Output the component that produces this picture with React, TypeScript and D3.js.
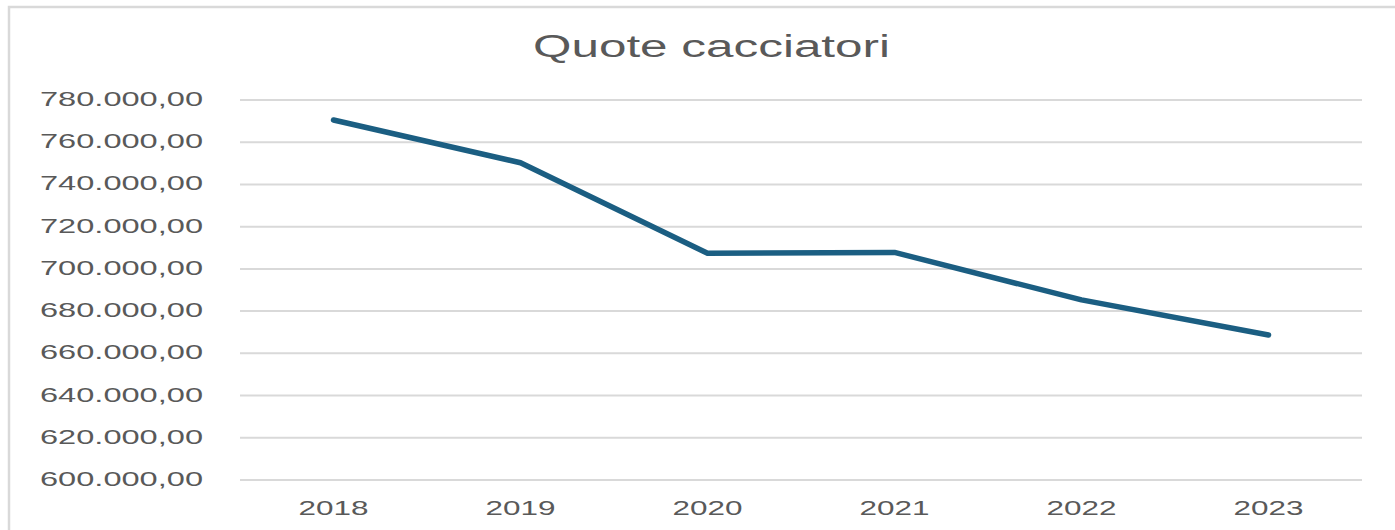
import React, { useEffect, useRef } from 'react';
import * as d3 from 'd3';

const years = ['2018', '2019', '2020', '2021', '2022', '2023'];
const quote = [770500, 750300, 707400, 707800, 685300, 668700];
const yTicks = [600000, 620000, 640000, 660000, 680000, 700000, 720000, 740000, 760000, 780000];
const title = 'Quote cacciatori';

const W = 1395;
const H = 530;

const fmt = (v: number) =>
  v.toLocaleString('it-IT', { minimumFractionDigits: 2, maximumFractionDigits: 2 });

const App = () => {
  const ref = useRef<SVGSVGElement>(null);

  useEffect(() => {
    document.body.style.margin = '0';
    const svg = d3.select(ref.current);
    svg.selectAll('*').remove();

    const margin = { top: 100, right: 33, bottom: 50, left: 240 };

    const x = d3
      .scaleBand()
      .domain(years)
      .range([margin.left, W - margin.right]);

    const y = d3
      .scaleLinear()
      .domain([600000, 780000])
      .range([H - margin.bottom, margin.top]);

    // chart border
    svg
      .append('rect')
      .attr('x', 9)
      .attr('y', 7)
      .attr('width', W + 20)
      .attr('height', H + 20)
      .attr('fill', '#fff')
      .attr('stroke', '#d9d9d9')
      .attr('stroke-width', 2.5);

    // title
    svg
      .append('text')
      .attr('x', 533)
      .attr('y', 57)
      .attr('textLength', 357)
      .attr('lengthAdjust', 'spacingAndGlyphs')
      .attr('font-family', 'Liberation Sans, Arial, sans-serif')
      .attr('font-size', 31)
      .attr('fill', '#595959')
      .text(title);

    // gridlines
    svg
      .append('g')
      .selectAll('line')
      .data(yTicks)
      .join('line')
      .attr('x1', margin.left)
      .attr('x2', W - margin.right)
      .attr('y1', (d) => y(d))
      .attr('y2', (d) => y(d))
      .attr('stroke', '#d9d9d9')
      .attr('stroke-width', 2);

    // y labels
    svg
      .append('g')
      .selectAll('text')
      .data(yTicks)
      .join('text')
      .attr('x', 203)
      .attr('y', (d) => y(d) + 6)
      .attr('text-anchor', 'end')
      .attr('textLength', 163)
      .attr('lengthAdjust', 'spacingAndGlyphs')
      .attr('font-family', 'Liberation Sans, Arial, sans-serif')
      .attr('font-size', 21)
      .attr('fill', '#595959')
      .text((d) => fmt(d));

    // x labels
    svg
      .append('g')
      .selectAll('text')
      .data(years)
      .join('text')
      .attr('x', (d) => x(d)! + x.bandwidth() / 2)
      .attr('y', 515)
      .attr('text-anchor', 'middle')
      .attr('textLength', 70)
      .attr('lengthAdjust', 'spacingAndGlyphs')
      .attr('font-family', 'Liberation Sans, Arial, sans-serif')
      .attr('font-size', 21)
      .attr('fill', '#595959')
      .text((d) => d);

    // line
    const line = d3
      .line<number>()
      .x((_, i) => x(years[i])! + x.bandwidth() / 2)
      .y((d) => y(d));

    svg
      .append('path')
      .datum(quote)
      .attr('fill', 'none')
      .attr('stroke', '#1b5e82')
      .attr('stroke-width', 5.5)
      .attr('stroke-linecap', 'round')
      .attr('stroke-linejoin', 'round')
      .attr('d', line);
  }, []);

  return <svg ref={ref} width={W} height={H} style={{ display: 'block' }}></svg>;
};

export default App;
